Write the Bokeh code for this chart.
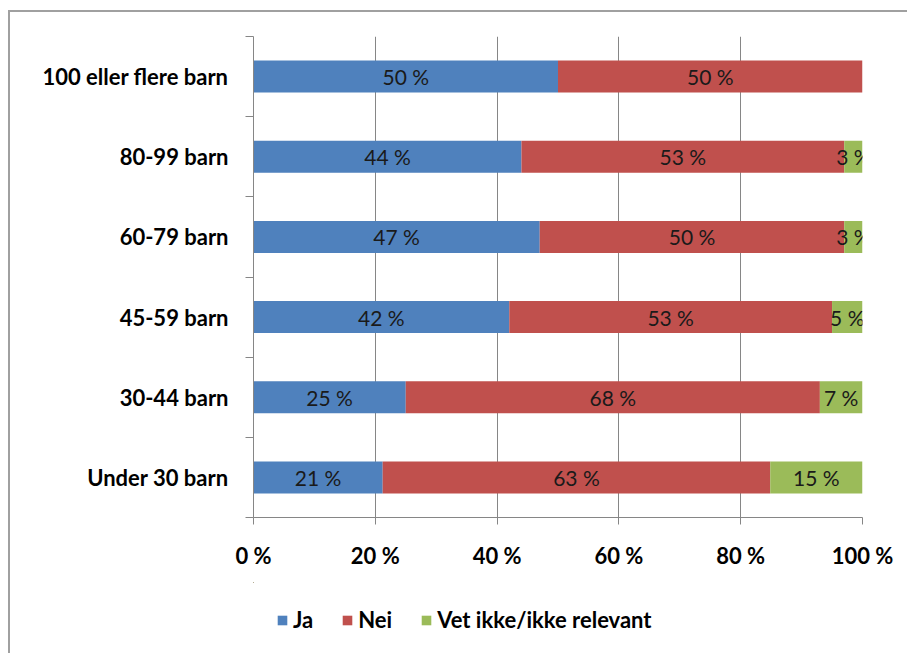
from bokeh.plotting import figure
from bokeh.layouts import column
from bokeh.models import ColumnDataSource, Range1d, FixedTicker, PrintfTickFormatter, Legend, LegendItem
from bokeh.core.properties import value
from bokeh.embed import file_html
from bokeh.resources import INLINE

categories = ["100 eller flere barn", "80-99 barn", "60-79 barn", "45-59 barn", "30-44 barn", "Under 30 barn"]
ja = [50, 44, 47, 42, 25, 21]
nei = [50, 53, 50, 53, 68, 63]
vet = [0, 3, 3, 5, 7, 15]
series_names = ["Ja", "Nei", "Vet ikke/ikke relevant"]
colors = ["#4F81BD", "#C0504D", "#9BBB59"]
x_ticks = [0, 20, 40, 60, 80, 100]

FONT = "Lato"
GRID = "#868686"

n = len(categories)
ypos = [n - i - 0.5 for i in range(n)]
totals = [a + b + c for a, b, c in zip(ja, nei, vet)]


def norm(s):
    return [v * 100.0 / t for v, t in zip(s, totals)]


series = [ja, nei, vet]
keys = ["ja", "nei", "vet"]
data = dict(y=ypos)
for k, s in zip(keys, series):
    data[k] = norm(s)
src = ColumnDataSource(data)

W = 897
H_MAIN = 570
H_LEG = 71

p = figure(width=W, height=H_MAIN, x_range=Range1d(0, 100), y_range=Range1d(0, n),
           output_backend="svg", toolbar_location=None,
           min_border_left=243, min_border_right=45, min_border_top=24, min_border_bottom=65)
p.outline_line_color = None

rs = p.hbar_stack(keys, y="y", height=0.4, fill_color=colors, line_color=None, source=src)

# data labels
lx, ly, lt = [], [], []
cum = [0.0] * n
for k, s in zip(keys, series):
    vals = data[k]
    for i in range(n):
        if s[i] > 0:
            lx.append(cum[i] + vals[i] / 2.0)
            ly.append(ypos[i])
            lt.append(f"{s[i]} %")
        cum[i] += vals[i]
p.text(x="x", y="y", text="t", source=ColumnDataSource(dict(x=lx, y=ly, t=lt)),
       text_align="center", text_baseline="middle", text_font=value(FONT),
       text_font_size=value("21px"), text_color="#1a1a1a")

# x axis
p.xaxis.ticker = FixedTicker(ticks=x_ticks)
p.xaxis.formatter = PrintfTickFormatter(format="%d %%")
p.xaxis.major_tick_out = 7
p.xaxis.major_tick_in = 0
p.xaxis.minor_tick_out = 0
p.xaxis.minor_tick_in = 0
p.xaxis.axis_line_color = GRID
p.xaxis.major_tick_line_color = GRID
p.xaxis.major_label_text_font = FONT
p.xaxis.major_label_text_font_style = "bold"
p.xaxis.major_label_text_font_size = "22px"
p.xaxis.major_label_text_color = "#000000"
p.xaxis.major_label_standoff = 17

# y axis
p.yaxis.ticker = FixedTicker(ticks=ypos, minor_ticks=list(range(n + 1)))
p.yaxis.major_label_overrides = {y: c for y, c in zip(ypos, categories)}
p.yaxis.major_tick_out = 0
p.yaxis.major_tick_in = 0
p.yaxis.minor_tick_out = 8
p.yaxis.minor_tick_in = 0
p.yaxis.minor_tick_line_color = GRID
p.yaxis.axis_line_color = GRID
p.yaxis.major_label_text_font = FONT
p.yaxis.major_label_text_font_style = "bold"
p.yaxis.major_label_text_font_size = "22px"
p.yaxis.major_label_text_color = "#000000"
p.yaxis.major_label_standoff = 17

p.xgrid.ticker = FixedTicker(ticks=x_ticks)
p.xgrid.grid_line_color = GRID
p.ygrid.grid_line_color = None

# legend strip below the chart (same series; ranges chosen so no bar falls inside it)
lf = figure(width=W, height=H_LEG, x_range=Range1d(1000, 1100), y_range=Range1d(-3, -2),
            x_axis_type=None, y_axis_type=None, output_backend="svg", toolbar_location=None,
            min_border_left=243, min_border_right=45, min_border_top=0, min_border_bottom=0)
lf.outline_line_color = None
lrs = lf.hbar_stack(keys, y="y", height=0.4, fill_color=colors, line_color=None, source=src)

legend = Legend(items=[LegendItem(label=nm, renderers=[r]) for nm, r in zip(series_names, lrs)],
                orientation="horizontal", location=(23, 20),
                glyph_width=12, glyph_height=12, label_standoff=5, spacing=28,
                padding=0, margin=0, border_line_color=None, background_fill_alpha=0,
                label_text_font=FONT, label_text_font_style="bold", label_text_font_size="22px",
                label_text_color="#000000", label_height=20)
lf.add_layout(legend, "center")

col = column(p, lf, spacing=0)
col.margin = (10, 0, 0, 8)
col.styles = {"border-left": "2px solid #a0a0a0", "border-top": "2px solid #a0a0a0"}

open("out.html", "w").write(file_html(col, INLINE))
